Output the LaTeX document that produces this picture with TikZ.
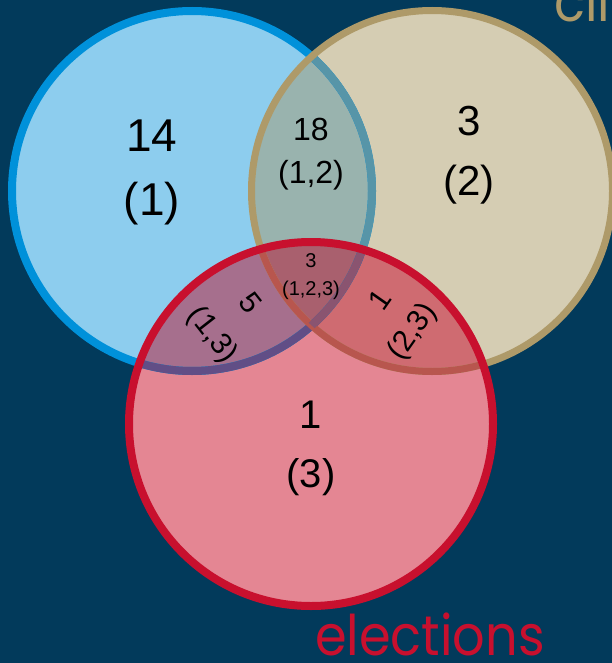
\documentclass[tikz,border=0pt]{standalone}
\usepackage{fontspec}
\setmainfont{Liberation Sans}
\newfontfamily\labelfont{Poppins}

\definecolor{bgnavy}{HTML}{023A5B}
\definecolor{bluefill}{HTML}{8DCDEE}
\definecolor{bluestroke}{HTML}{0091DA}
\definecolor{tanfill}{HTML}{D5CDB3}
\definecolor{tanstroke}{HTML}{AE9A69}
\definecolor{redfill}{HTML}{E48693}
\definecolor{redstroke}{HTML}{C8102E}
\definecolor{bluetanfill}{HTML}{99B3AE}
\definecolor{blueredfill}{HTML}{A66F8D}
\definecolor{tanredfill}{HTML}{CF6B71}
\definecolor{allfill}{HTML}{A9606E}
\definecolor{bluestrokeintan}{HTML}{5795A8}
\definecolor{bluestrokeinred}{HTML}{614E86}
\definecolor{bluestrokeinboth}{HTML}{8A5470}
\definecolor{tanstrokeinred}{HTML}{B8564E}

\tikzset{
  num/.style={inner sep=0pt, text=black, anchor=base},
  setname/.style={inner sep=0pt, anchor=base west, font=\labelfont\fontsize{56}{60}\selectfont},
}

\newcommand{\rblue}{180pt}
\newcommand{\rtan}{180.5pt}
\newcommand{\rred}{182pt}

\begin{document}
\begin{tikzpicture}[x=1pt,y=-1pt]
  \useasboundingbox (0,0) rectangle (612,663);
  \fill[bgnavy] (0,0) rectangle (612,663);

  \coordinate (cb) at (192,191);
  \coordinate (ct) at (432,191);
  \coordinate (cr) at (311,424);

  % region fills
  \fill[bluefill] (cb) circle[radius=\rblue];
  \fill[tanfill] (ct) circle[radius=\rtan];
  \fill[redfill] (cr) circle[radius=\rred];
  \begin{scope}
    \clip (cb) circle[radius=\rblue];
    \fill[bluetanfill] (ct) circle[radius=\rtan];
    \fill[blueredfill] (cr) circle[radius=\rred];
  \end{scope}
  \begin{scope}
    \clip (ct) circle[radius=\rtan];
    \fill[tanredfill] (cr) circle[radius=\rred];
  \end{scope}
  \begin{scope}
    \clip (cb) circle[radius=\rblue];
    \clip (ct) circle[radius=\rtan];
    \fill[allfill] (cr) circle[radius=\rred];
  \end{scope}

  % outlines
  \draw[bluestroke, line width=8pt] (cb) circle[radius=\rblue];
  \begin{scope}
    \clip (ct) circle[radius=\rtan];
    \draw[bluestrokeintan, line width=8pt] (cb) circle[radius=\rblue];
  \end{scope}
  \draw[tanstroke, line width=7pt] (ct) circle[radius=\rtan];
  \begin{scope}
    \clip (cr) circle[radius=\rred];
    \draw[bluestrokeinred, line width=8pt] (cb) circle[radius=\rblue];
    \draw[tanstrokeinred, line width=7pt] (ct) circle[radius=\rtan];
  \end{scope}
  \begin{scope}
    \clip (cr) circle[radius=\rred];
    \clip (ct) circle[radius=\rtan];
    \draw[bluestrokeinboth, line width=8pt] (cb) circle[radius=\rblue];
  \end{scope}
  \draw[redstroke, line width=8pt] (cr) circle[radius=\rred];

  % counts
  \node[num, font=\fontsize{46}{50}\selectfont] (n1) at (152,152) {14};
  \node[num, font=\fontsize{46}{50}\selectfont] (n1s) at (152,215) {(1)};
  \node[num, font=\fontsize{42}{46}\selectfont] (n2) at (469,136) {3};
  \node[num, font=\fontsize{42}{46}\selectfont] (n2s) at (469,195) {(2)};
  \node[num, font=\fontsize{40}{44}\selectfont] (n3) at (311,428) {1};
  \node[num, font=\fontsize{40}{44}\selectfont] (n3s) at (311,487) {(3)};
  \node[num, font=\fontsize{32}{36}\selectfont] (n12) at (311,141) {18};
  \node[num, font=\fontsize{32}{36}\selectfont] (n12s) at (311,183) {(1,2)};
  \node[num, font=\fontsize{20}{24}\selectfont] (n123) at (311,267) {3};
  \node[num, font=\fontsize{20}{24}\selectfont] (n123s) at (311,295) {(1,2,3)};
  \node[num, anchor=center, rotate=-52, font=\fontsize{30}{34}\selectfont] (n13) at (251,303) {5};
  \node[num, anchor=center, rotate=-52, font=\fontsize{30}{34}\selectfont] (n13s) at (212,335) {(1,3)};
  \node[num, anchor=center, rotate=55, font=\fontsize{30}{34}\selectfont] (n23) at (380,300) {1};
  \node[num, anchor=center, rotate=55, font=\fontsize{30}{34}\selectfont] (n23s) at (413,332) {(2,3)};

  % set names
  \node[setname, text=tanstroke] (lbltan) at (554,22) {\scalebox{0.91}[1]{cli}};
  \node[setname, text=redstroke] (lblred) at (315,655) {\scalebox{0.91}[1]{elections}};
\end{tikzpicture}
\end{document}
